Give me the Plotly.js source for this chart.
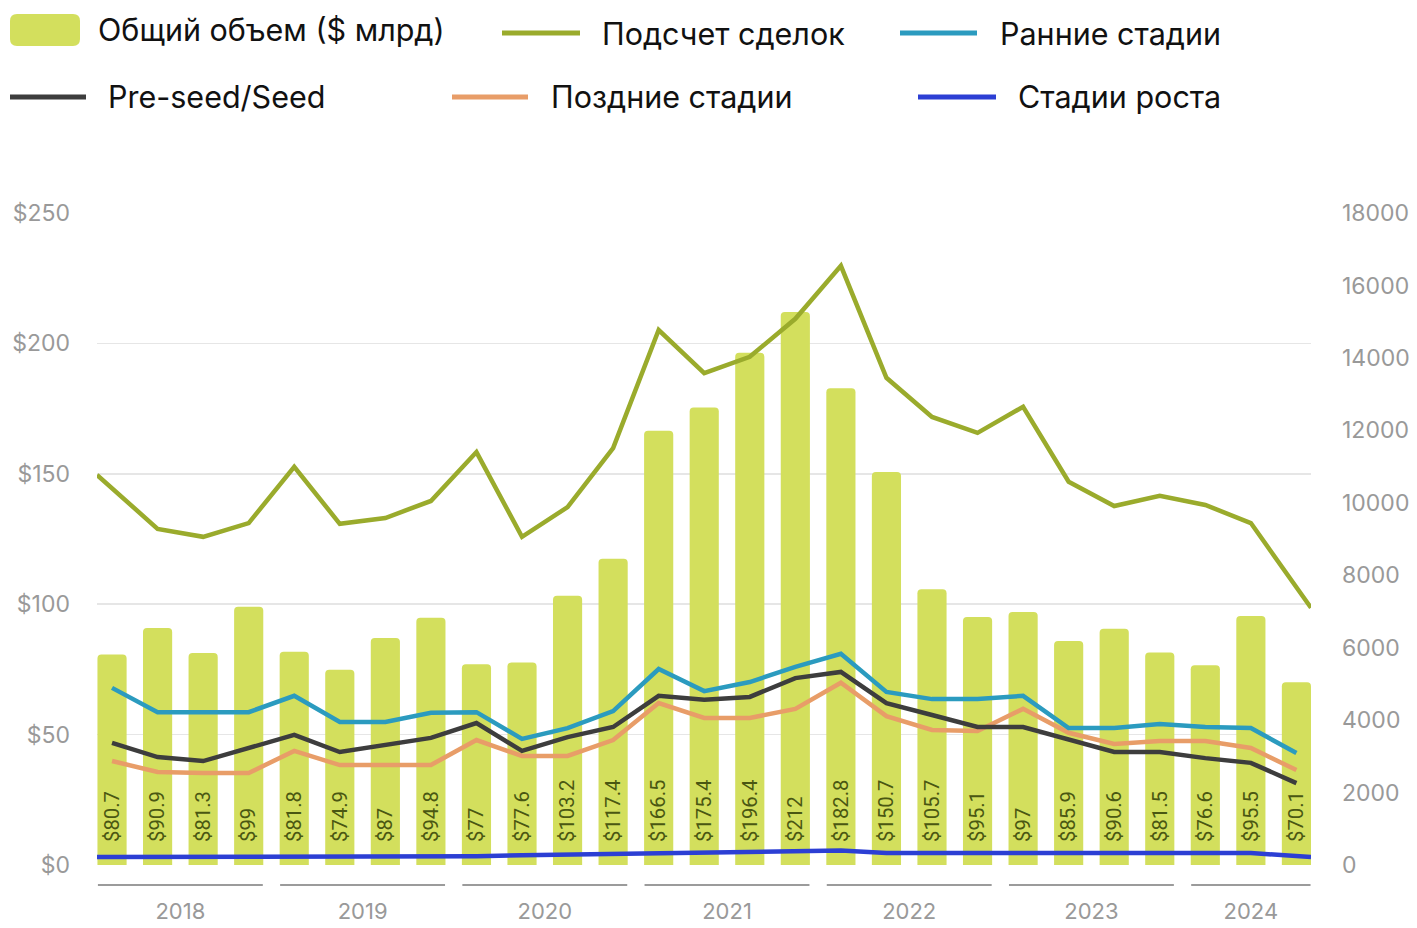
<!DOCTYPE html>
<html>
<head>
<meta charset="utf-8">
<script src="https://cdn.plot.ly/plotly-3.0.1.min.js"></script>
<style>
  html, body { margin: 0; padding: 0; background: #fff; }
  #chart { width: 1417px; height: 928px; }
</style>
</head>
<body>
<div id="chart"></div>
<script>
// Datos por trimestre (2018 T1 - 2024 T3)
var years = ['2018', '2019', '2020', '2021', '2022', '2023', '2024'];
var quartersPerYear = [4, 4, 4, 4, 4, 4, 3];

var totalVolume = [80.7, 90.9, 81.3, 99, 81.8, 74.9, 87, 94.8, 77, 77.6, 103.2, 117.4,
    166.5, 175.4, 196.4, 212, 182.8, 150.7, 105.7, 95.1, 97, 85.9, 90.6, 81.5, 76.6, 95.5, 70.1];
var dealCount = [10770, 9280, 9060, 9440, 10990, 9420, 9580, 10050, 11400, 9060, 9880, 11510,
    14770, 13580, 14030, 15080, 16540, 13450, 12370, 11930, 12650, 10580, 9910, 10190, 9940, 9440, 7100];
var earlyStage = [4890, 4220, 4220, 4220, 4670, 3950, 3950, 4200, 4220, 3480, 3780, 4250,
    5410, 4800, 5050, 5470, 5830, 4780, 4580, 4580, 4670, 3780, 3780, 3890, 3810, 3780, 3090];
var preSeed = [3370, 2980, 2870, 3230, 3590, 3120, 3310, 3510, 3920, 3150, 3530, 3810,
    4670, 4560, 4640, 5160, 5330, 4470, 4140, 3810, 3810, 3450, 3120, 3120, 2950, 2820, 2260];
var lateStage = [2870, 2570, 2540, 2540, 3150, 2760, 2760, 2760, 3450, 3010, 3010, 3450,
    4470, 4060, 4060, 4310, 5030, 4110, 3730, 3700, 4310, 3650, 3340, 3420, 3420, 3230, 2620];
var growthStage = [220, 220, 220, 220, 220, 220, 220, 220, 240, 270, 290, 310,
    330, 340, 360, 380, 400, 330, 330, 330, 330, 330, 330, 330, 330, 330, 220];

var names = {
    total: 'Общий объем ($ млрд)',
    deals: 'Подсчет сделок',
    early: 'Ранние стадии',
    seed: 'Pre-seed/Seed',
    late: 'Поздние стадии',
    growth: 'Стадии роста'
};

var colors = {
    total: '#d3df5d',
    deals: '#9aab2c',
    early: '#2b9bbf',
    seed: '#3d3d3d',
    late: '#e89d68',
    growth: '#2c3fd4'
};

// Geometria del grafico
var W = 1417, H = 928;
var M = { l: 97, r: 106, t: 213, b: 63 };
var xMin = -0.33, xMax = 26.32;
var plotW = W - M.l - M.r, plotH = H - M.t - M.b;

var idx = totalVolume.map(function (v, i) { return i; });
// las lineas de total y crecimiento llegan hasta los bordes
var edgeX = idx.map(function (i) {
    if (i === 0) return xMin;
    if (i === idx.length - 1) return xMax;
    return i;
});

// Etiquetas de años y segmentos bajo el eje
var yearCenters = [], yearShapes = [];
var start = 0;
quartersPerYear.forEach(function (n) {
    var end = start + n - 1;
    yearCenters.push((start + end) / 2);
    yearShapes.push({
        type: 'line', xref: 'x', yref: 'paper',
        x0: start - 0.31, x1: Math.min(end + 0.31, xMax),
        y0: -20 / plotH, y1: -20 / plotH,
        line: { color: '#9b9b9b', width: 2 }
    });
    start += n;
});

var barLabels = totalVolume.map(function (v) { return '\u00a0\u00a0\u00a0\u00a0$' + v; });

var font = 'Inter, "Noto Sans", sans-serif';

function lineTrace(key, xs, ys) {
    return {
        type: 'scatter', mode: 'lines', name: names[key],
        x: xs, y: ys, yaxis: 'y2',
        line: { color: colors[key], width: 4.5 },
        hoverinfo: 'skip'
    };
}

var data = [
    {
        type: 'bar', name: names.total,
        x: idx, y: totalVolume, width: 0.64,
        marker: { color: colors.total },
        text: barLabels,
        textposition: 'inside',
        insidetextanchor: 'start',
        textangle: -90,
        constraintext: 'none',
        textfont: { family: 'Roboto, sans-serif', size: 21, color: '#4a5712' },
        hoverinfo: 'skip'
    },
    lineTrace('deals', edgeX, dealCount),
    lineTrace('late', idx, lateStage),
    lineTrace('seed', idx, preSeed),
    lineTrace('early', idx, earlyStage),
    lineTrace('growth', edgeX, growthStage)
];

// Leyenda propia (dos filas)
var legendItems = [
    { key: 'total', kind: 'bar', x0: 10, x1: 80, y: 30, tx: 96 },
    { key: 'deals', kind: 'line', x0: 502, x1: 580, y: 33, tx: 600 },
    { key: 'early', kind: 'line', x0: 900, x1: 977, y: 33, tx: 998 },
    { key: 'seed', kind: 'line', x0: 10, x1: 86, y: 97, tx: 106 },
    { key: 'late', kind: 'line', x0: 452, x1: 528, y: 97, tx: 549 },
    { key: 'growth', kind: 'line', x0: 918, x1: 996, y: 97, tx: 1016 }
];

function px2x(px) { return (px - M.l) / plotW; }
function py2y(py) { return (H - M.b - py) / plotH; }

// rectangulo redondeado en pixeles alrededor de (0,0)
function roundRect(w, h, r) {
    var a = w / 2, b = h / 2;
    return 'M' + (-a + r) + ',' + (-b) + ' H' + (a - r) + ' Q' + a + ',' + (-b) + ' ' + a + ',' + (-b + r) +
        ' V' + (b - r) + ' Q' + a + ',' + b + ' ' + (a - r) + ',' + b + ' H' + (-a + r) +
        ' Q' + (-a) + ',' + b + ' ' + (-a) + ',' + (b - r) + ' V' + (-b + r) +
        ' Q' + (-a) + ',' + (-b) + ' ' + (-a + r) + ',' + (-b) + ' Z';
}

var shapes = yearShapes.slice();
var annotations = [];
legendItems.forEach(function (it) {
    if (it.kind === 'bar') {
        shapes.push({
            type: 'path', xref: 'paper', yref: 'paper',
            xsizemode: 'pixel', ysizemode: 'pixel',
            xanchor: px2x((it.x0 + it.x1) / 2), yanchor: py2y(it.y),
            path: roundRect(it.x1 - it.x0, 32, 7),
            fillcolor: colors[it.key], line: { width: 0 }
        });
    } else {
        shapes.push({
            type: 'line', xref: 'paper', yref: 'paper',
            x0: px2x(it.x0), x1: px2x(it.x1), y0: py2y(it.y), y1: py2y(it.y),
            line: { color: colors[it.key], width: 5 }
        });
    }
    annotations.push({
        xref: 'paper', yref: 'paper', x: px2x(it.tx), y: py2y(it.y),
        xanchor: 'left', yanchor: 'middle', showarrow: false,
        text: names[it.key],
        font: { family: font, size: 30.5, color: '#111' }
    });
});

var layout = {
    width: W, height: H,
    margin: M,
    paper_bgcolor: '#fff', plot_bgcolor: '#fff',
    showlegend: false,
    barcornerradius: 4,
    font: { family: font, color: '#999' },
    xaxis: {
        range: [xMin, xMax],
        tickvals: yearCenters, ticktext: years,
        ticklabelstandoff: 31,
        showgrid: false, zeroline: false, showline: false,
        tickfont: { family: font, size: 22, color: '#999' }
    },
    yaxis: {
        range: [0, 250], tick0: 0, dtick: 50, tickprefix: '$',
        gridcolor: '#e6e6e6', gridwidth: 1.5, zeroline: false, showline: false,
        ticklabelstandoff: 26,
        tickfont: { family: font, size: 23, color: '#999' }
    },
    yaxis2: {
        overlaying: 'y', side: 'right',
        range: [0, 18000], dtick: 2000, tickformat: 'd',
        showgrid: false, zeroline: false, showline: false,
        ticklabelstandoff: 30,
        tickfont: { family: font, size: 23, color: '#999' }
    },
    shapes: shapes,
    annotations: annotations
};

var config = { staticPlot: true };

Plotly.newPlot('chart', data, layout, config);
</script>
</body>
</html>
